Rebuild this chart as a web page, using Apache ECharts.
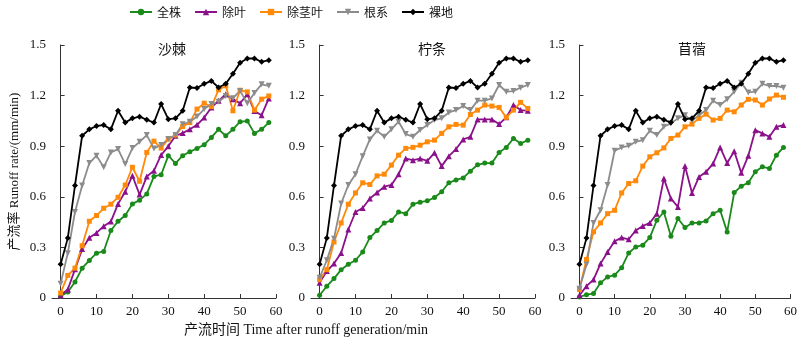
<!DOCTYPE html>
<html><head><meta charset="utf-8">
<script src="https://cdn.jsdelivr.net/npm/echarts@6/dist/echarts.min.js"></script>
<style>html,body{margin:0;padding:0;background:#fff}#c{width:800px;height:342px}</style>
</head><body><div id="c"></div>
<script>
const times = [0,2,4,6,8,10,12,14,16,18,20,22,24,26,28,30,32,34,36,38,40,42,44,46,48,50,52,54,56,58];
const xTicks = [0,10,20,30,40,50,60];
const seriesNames = ['全株','除叶','除茎叶','根系','裸地'];
const panelTitles = ['沙棘','柠条','苜蓿'];

// 裸地 (same in every panel)
const bare = [0.20,0.355,0.667,0.962,1.00,1.02,1.025,1.00,1.11,1.04,1.065,1.075,1.057,1.04,1.15,1.06,1.065,1.11,1.248,1.245,1.27,1.287,1.248,1.27,1.33,1.395,1.42,1.42,1.40,1.41];

// 沙棘
const sj_whole = [0.01,0.035,0.095,0.177,0.223,0.266,0.276,0.40,0.455,0.489,0.558,0.58,0.617,0.721,0.731,0.844,0.798,0.844,0.867,0.887,0.909,0.952,1.00,0.962,1.00,1.045,1.049,0.976,1.00,1.04];
const sj_noLeaf = [0.016,0.05,0.17,0.29,0.357,0.386,0.426,0.453,0.558,0.63,0.725,0.613,0.72,0.755,0.848,0.899,0.962,0.978,1.00,1.027,1.07,1.13,1.169,1.208,1.179,1.155,1.208,1.108,1.084,1.183];
const sj_noStemLeaf = [0.03,0.134,0.177,0.31,0.455,0.489,0.532,0.556,0.597,0.67,0.775,0.692,0.863,0.93,0.889,0.942,0.966,1.017,1.04,1.12,1.155,1.135,1.234,1.258,1.11,1.232,1.222,1.114,1.179,1.198];
const sj_root = [0.085,0.266,0.51,0.667,0.80,0.844,0.775,0.863,0.883,0.794,0.889,0.926,0.966,0.887,0.907,0.942,0.966,1.03,1.045,1.076,1.12,1.15,1.163,1.198,1.185,1.228,1.155,1.216,1.267,1.258];

// 柠条
const nt_whole = [0.016,0.07,0.115,0.168,0.20,0.224,0.273,0.358,0.40,0.445,0.46,0.51,0.50,0.556,0.568,0.576,0.596,0.63,0.683,0.70,0.712,0.752,0.79,0.80,0.80,0.863,0.893,0.946,0.916,0.936];
const nt_noLeaf = [0.09,0.16,0.204,0.267,0.406,0.51,0.534,0.59,0.625,0.66,0.67,0.734,0.827,0.817,0.827,0.813,0.861,0.782,0.841,0.883,0.94,0.956,1.059,1.059,1.059,1.031,1.071,1.144,1.114,1.11];
const nt_noStemLeaf = [0.109,0.168,0.332,0.445,0.556,0.623,0.683,0.673,0.724,0.734,0.788,0.847,0.887,0.893,0.906,0.926,0.936,0.976,1.015,1.029,1.025,1.088,1.114,1.144,1.138,1.13,1.071,1.114,1.16,1.124];
const nt_root = [0.12,0.224,0.352,0.56,0.67,0.734,0.841,0.94,0.992,0.956,1.00,1.045,0.972,0.956,0.996,1.025,1.055,1.065,1.10,1.114,1.138,1.114,1.17,1.17,1.183,1.263,1.223,1.227,1.247,1.263];

// 苜蓿
const mx_whole = [0.006,0.02,0.026,0.09,0.125,0.135,0.18,0.267,0.303,0.313,0.358,0.461,0.51,0.366,0.471,0.418,0.445,0.445,0.457,0.50,0.52,0.392,0.625,0.663,0.683,0.748,0.778,0.768,0.847,0.893];
const mx_noLeaf = [0.016,0.07,0.109,0.204,0.273,0.336,0.358,0.348,0.40,0.427,0.445,0.50,0.708,0.59,0.54,0.782,0.623,0.718,0.748,0.797,0.893,0.80,0.87,0.742,0.843,0.995,0.976,0.956,1.015,1.025];
const mx_noStemLeaf = [0.05,0.228,0.392,0.445,0.50,0.52,0.623,0.679,0.695,0.782,0.837,0.861,0.89,0.946,0.966,1.015,1.031,1.065,1.09,1.055,1.065,1.114,1.104,1.144,1.178,1.174,1.144,1.18,1.203,1.19];
const mx_root = [0.055,0.198,0.445,0.52,0.67,0.873,0.893,0.902,0.926,0.936,0.992,0.966,1.015,1.035,1.065,1.084,1.051,1.084,1.114,1.17,1.144,1.178,1.223,1.276,1.219,1.223,1.27,1.257,1.257,1.247];

const panels = [
  [sj_whole, sj_noLeaf, sj_noStemLeaf, sj_root, bare],
  [nt_whole, nt_noLeaf, nt_noStemLeaf, nt_root, bare],
  [mx_whole, mx_noLeaf, mx_noStemLeaf, mx_root, bare]
];

const colors = ['#1a8a1a','#8b118b','#ff8a0a','#8c8c8c','#000000'];
const symbols = ['circle','triangle','rect','triangle','diamond'];
const symbolRot = [0,0,0,180,0];
const symbolSizes = [5,6,5,6,6];

const serif = '"Liberation Serif","Times New Roman","Noto Sans CJK SC",serif';
const cjk = '"Noto Sans CJK SC","Liberation Serif",serif';

const gridLefts = [52, 311, 571];
const grids = gridLefts.map(l => ({left: l, top: 45, width: 224, height: 253}));

const xAxes = grids.map((g, i) => ({
  type: 'value', gridIndex: i, min: -2.4, max: 60,
  axisLine: {show: true, lineStyle: {color: '#333', width: 1}},
  axisTick: {show: true, inside: true, length: 4, customValues: xTicks, lineStyle: {color: '#333'}},
  axisLabel: {customValues: xTicks, color: '#111', fontFamily: serif, fontSize: 13, margin: 7, showMaxLabel: true, showMinLabel: true},
  splitLine: {show: false}
}));
const yAxes = grids.map((g, i) => ({
  type: 'value', gridIndex: i, min: 0, max: 1.5, interval: 0.3,
  axisLine: {show: true, lineStyle: {color: '#333', width: 1}},
  axisTick: {show: true, inside: true, length: 4, lineStyle: {color: '#333'}},
  axisLabel: {color: '#111', fontFamily: serif, fontSize: 13, margin: 6,
    formatter: v => v === 0 ? '0' : v.toFixed(1)},
  splitLine: {show: false},
  name: i === 0 ? '产流率 Runoff rate/(mm/min)' : '',
  nameLocation: 'middle', nameGap: 31, nameRotate: 90,
  nameTextStyle: {fontFamily: serif, fontSize: 13, color: '#111'}
}));

const series = [];
panels.forEach((arrs, p) => {
  arrs.forEach((vals, k) => {
    series.push({
      name: seriesNames[k], type: 'line', xAxisIndex: p, yAxisIndex: p,
      data: times.map((t, j) => [t, vals[j]]),
      symbol: symbols[k], symbolRotate: symbolRot[k], symbolSize: symbolSizes[k],
      showAllSymbol: true,
      lineStyle: {color: colors[k], width: 1.8},
      itemStyle: {color: colors[k]},
      z: 2 + (k === 4 ? 1 : 0),
      animation: false
    });
  });
});

const titles = panelTitles.map((t, i) => ({
  text: t, left: [167, 427, 687][i], top: 37, textAlign: 'center',
  textStyle: {fontFamily: cjk, fontSize: 14, fontWeight: 'normal', color: '#111'}
}));
titles.push({
  text: '产流时间 Time after runoff generation/min', left: 301, top: 318, textAlign: 'center',
  textStyle: {fontFamily: serif, fontSize: 14, fontWeight: 'normal', color: '#111'}
});

const chart = echarts.init(document.getElementById('c'), null, {renderer: 'canvas'});
chart.setOption({
  animation: false,
  backgroundColor: '#fff',
  title: titles,
  legend: {
    data: seriesNames, left: 124, top: 1, itemWidth: 22, itemHeight: 8, itemGap: 13,
    textStyle: {fontFamily: cjk, fontSize: 12, color: '#111'}
  },
  grid: grids,
  xAxis: xAxes,
  yAxis: yAxes,
  series: series
});
</script></body></html>
